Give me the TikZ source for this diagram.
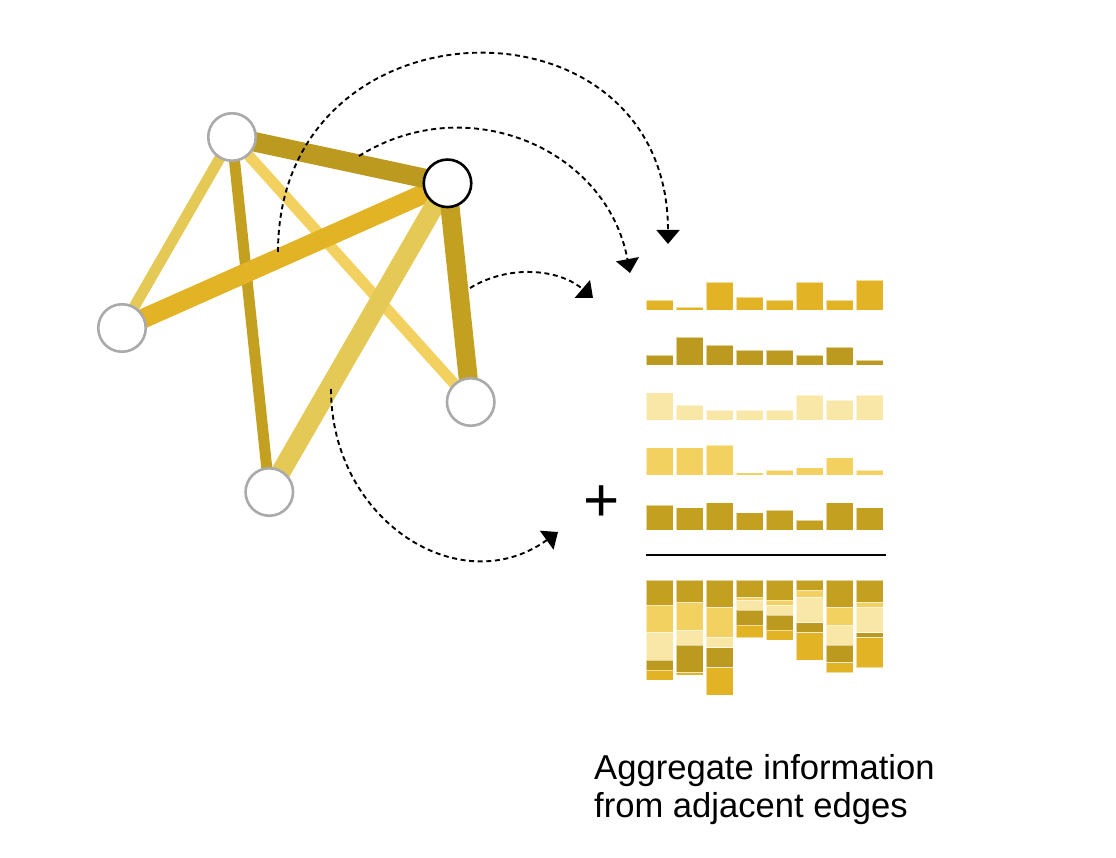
\documentclass[tikz,border=0pt]{standalone}
\usepackage{fontspec}
\setmainfont{Liberation Sans}
\usetikzlibrary{arrows.meta}
\definecolor{cgold}{HTML}{E2B325}
\definecolor{colive}{HTML}{BC991F}
\definecolor{cpale}{HTML}{F9E7A8}
\definecolor{clight}{HTML}{F2D161}
\definecolor{cdark}{HTML}{C4A021}
\definecolor{cmuted}{HTML}{E4C957}
\definecolor{cgray}{HTML}{AAAAAA}
\pgfdeclarelayer{background}
\pgfsetlayers{background,main}
\begin{document}
\begin{tikzpicture}[x=1pt,y=-1pt,
  vtx/.style={circle, draw=cgray, line width=2.6pt, fill=white, minimum size=47.5pt, inner sep=0pt},
  focusvtx/.style={vtx, draw=black},
  edgethin/.style={line width=11pt},
  edgethick/.style={line width=19.5pt},
  bar/.style={draw=white, draw opacity=0.55, line width=0.7pt},
  flow/.style={dashed, dash pattern=on 5pt off 3.6pt, line width=1.9pt, -{Triangle[width=23pt,length=14pt]}},
  label/.style={font=\fontsize{34.6}{38}\selectfont, align=left, inner sep=0pt}
]
\useasboundingbox (0,0) rectangle (1116,858);

% vertices
\node[vtx] (A) at (232,137) {};
\node[focusvtx] (B) at (447.5,183.3) {};
\node[vtx] (C) at (122,328) {};
\node[vtx] (D) at (470.7,402) {};
\node[vtx] (E) at (269.3,492) {};

% edges
\begin{pgfonlayer}{background}
\draw[edgethin, clight] (A.center) -- (D.center);
\draw[edgethin, cdark] (A.center) -- (E.center);
\draw[edgethin, cmuted] (A.center) -- (C.center);
\draw[edgethick, cgold] (C.center) -- (B.center);
\draw[edgethick, cmuted] (E.center) -- (B.center);
\draw[edgethick, colive] (A.center) -- (B.center);
\draw[edgethick, cdark, line width=19pt] (B.center) -- (D.center);
\end{pgfonlayer}

% flow arrows
\coordinate (s1) at (278,252);   \coordinate (e1) at (668,244);
\coordinate (s2) at (359,156);   \coordinate (e2) at (630,273);
\coordinate (s3) at (470,288);   \coordinate (e3) at (593,298);
\coordinate (s4) at (331,389);   \coordinate (e4) at (558,532);
\draw[flow] (s1) .. controls +(0,-258) and +(0,-258) .. (e1);
\draw[flow] (s2) .. controls +(107.7,-67.3) and +(-23.1,-124.8) .. (e2);
\draw[flow] (s3) .. controls +(38.7,-23.6) and +(-34.4,-29.5) .. (e3);
\draw[flow] (s4) .. controls +(0,131.7) and +(-97.8,70.7) .. (e4);

% bar rows
\foreach \h [count=\i from 0] in {10,2.5,27.5,12.5,10,27.5,10,30}
  \filldraw[bar, fill=cgold] (646+30*\i,310) rectangle ++(27.4,-\h);
\foreach \h [count=\i from 0] in {10,27.5,20,15,15,10,17.5,5}
  \filldraw[bar, fill=colive] (646+30*\i,365) rectangle ++(27.4,-\h);
\foreach \h [count=\i from 0] in {27.5,15,10,10,10,25,20,25}
  \filldraw[bar, fill=cpale] (646+30*\i,420) rectangle ++(27.4,-\h);
\foreach \h [count=\i from 0] in {27.5,27.5,30,2.5,5,7.5,17.5,5}
  \filldraw[bar, fill=clight] (646+30*\i,475) rectangle ++(27.4,-\h);
\foreach \h [count=\i from 0] in {25,22.5,27.5,17.5,20,10,27.5,22.5}
  \filldraw[bar, fill=cdark] (646+30*\i,530) rectangle ++(27.4,-\h);

\node[font=\fontsize{62}{62}\selectfont, inner sep=0pt] (plus) at (601.5,503.5) {+};

% sum line
\coordinate (r1) at (646,555);
\coordinate (r2) at (886,555);
\draw[line width=2.3pt] (r1) -- (r2);

% stacked bars
\foreach \a/\b/\c/\d/\e [count=\i from 0] in
  {25/27.5/27.5/10/10, 22.5/27.5/15/27.5/2.5, 27.5/30/10/20/27.5, 17.5/2.5/10/15/12.5,
   20/5/10/15/10, 10/7.5/25/10/27.5, 27.5/17.5/20/17.5/10, 22.5/5/25/5/30}{
  \pgfmathsetmacro\xx{646+30*\i}
  \pgfmathsetmacro\yb{580+\a}
  \pgfmathsetmacro\yc{\yb+\b}
  \pgfmathsetmacro\yd{\yc+\c}
  \pgfmathsetmacro\ye{\yd+\d}
  \filldraw[bar, fill=cdark] (\xx,580) rectangle ++(27.4,\a);
  \filldraw[bar, fill=clight] (\xx,\yb) rectangle ++(27.4,\b);
  \filldraw[bar, fill=cpale] (\xx,\yc) rectangle ++(27.4,\c);
  \filldraw[bar, fill=colive] (\xx,\yd) rectangle ++(27.4,\d);
  \filldraw[bar, fill=cgold] (\xx,\ye) rectangle ++(27.4,\e);
}

\node[label, anchor=base west] (txt) at (594,817.5) {Aggregate information\\from adjacent edges};
\end{tikzpicture}
\end{document}
